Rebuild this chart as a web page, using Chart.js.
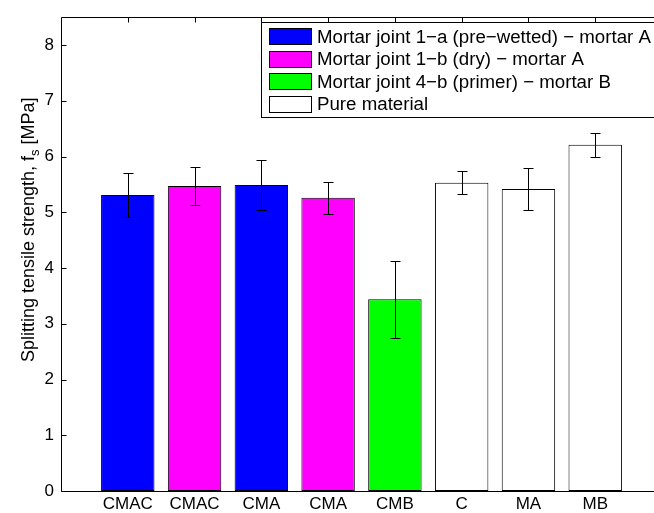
<!DOCTYPE html>
<html><head><meta charset="utf-8">
<script src="https://cdn.jsdelivr.net/npm/chart.js@4"></script>
<style>
html,body{margin:0;padding:0;background:#fff;overflow:hidden}
#wrap{width:654px;height:513px;overflow:hidden;position:relative;background:#fff}
canvas{display:block}
</style></head>
<body><div id="wrap"><canvas id="c" width="680" height="513"></canvas></div>
<script>
// Splitting tensile strength per specimen type (mean and standard deviation, MPa)
const categories = ['CMAC', 'CMAC', 'CMA', 'CMA', 'CMB', 'C', 'MA', 'MB'];
const strength = [5.31, 5.47, 5.49, 5.26, 3.44, 5.53, 5.42, 6.21];
const stdDev = [0.40, 0.34, 0.445, 0.285, 0.69, 0.205, 0.38, 0.215];
const barGroup = [0, 1, 0, 1, 2, 3, 3, 3];
const groupNames = [
  'Mortar joint 1\u2212a (pre\u2212wetted) \u2212 mortar A',
  'Mortar joint 1\u2212b (dry) \u2212 mortar A',
  'Mortar joint 4\u2212b (primer) \u2212 mortar B',
  'Pure material'
];
const groupColors = ['#0000ff', '#ff00ff', '#00ff00', '#ffffff'];
const yTicks = [0, 1, 2, 3, 4, 5, 6, 7, 8];
const yTitle = ['Splitting tensile strength, f', 's', ' [MPa]'];

const FONT = "'Liberation Sans', Arial, Helvetica, sans-serif";

// Axes box with inward tick marks, drawn beneath the bars
const axesBox = {
  id: 'axesBox',
  beforeDatasetsDraw(chart) {
    const { ctx, chartArea: a, scales: { x, y } } = chart;
    ctx.save();
    ctx.strokeStyle = '#000';
    ctx.lineWidth = 1;
    ctx.beginPath();
    const L = Math.round(a.left) + 0.5, R = Math.round(a.right) + 0.5;
    const T = Math.round(a.top) + 0.5, B = Math.round(a.bottom) + 0.5;
    ctx.rect(L, T, R - L, B - T);
    yTicks.forEach(v => {
      const py = Math.round(y.getPixelForValue(v)) + 0.5;
      ctx.moveTo(L, py); ctx.lineTo(L + 5, py);
      ctx.moveTo(R, py); ctx.lineTo(R - 5, py);
    });
    categories.forEach((c, i) => {
      const px = Math.round(x.getPixelForValue(i + 1)) + 0.5;
      ctx.moveTo(px, T); ctx.lineTo(px, T + 5);
      ctx.moveTo(px, B); ctx.lineTo(px, B - 5);
    });
    ctx.stroke();
    ctx.restore();
  }
};

// Error bars (mean ± one standard deviation) with short caps
const errorBars = {
  id: 'errorBars',
  afterDatasetsDraw(chart) {
    const { ctx, scales: { x, y } } = chart;
    ctx.save();
    ctx.strokeStyle = '#000';
    ctx.lineWidth = 1;
    ctx.beginPath();
    strength.forEach((m, i) => {
      const px = Math.round(x.getPixelForValue(i + 1)) + 0.5;
      const hi = Math.round(y.getPixelForValue(m + stdDev[i])) + 0.5;
      const lo = Math.round(y.getPixelForValue(m - stdDev[i])) + 0.5;
      ctx.moveTo(px, hi); ctx.lineTo(px, lo);
      ctx.moveTo(px - 5, hi); ctx.lineTo(px + 5, hi);
      ctx.moveTo(px - 5, lo); ctx.lineTo(px + 5, lo);
    });
    ctx.stroke();
    ctx.restore();
  }
};

// Legend box in the upper right and the y-axis title with its subscript
const annotations = {
  id: 'annotations',
  afterDraw(chart) {
    const { ctx } = chart;
    ctx.save();
    // legend
    const lx = 261, ly = 22, lw = 420, lh = 95;
    ctx.fillStyle = '#fff';
    ctx.fillRect(lx, ly, lw, lh);
    ctx.strokeStyle = '#000';
    ctx.lineWidth = 1;
    ctx.strokeRect(lx + 0.5, ly + 0.5, lw, lh);
    ctx.font = '18.7px ' + FONT;
    ctx.textBaseline = 'middle';
    groupNames.forEach((name, i) => {
      const cy = 36.5 + i * 22.6;
      ctx.fillStyle = groupColors[i];
      ctx.fillRect(269, Math.round(cy - 8.5), 43, 17);
      ctx.strokeRect(269.5, Math.round(cy - 8.5) + 0.5, 42, 16);
      ctx.fillStyle = '#000';
      ctx.fillText(name, 317, cy + 1);
    });
    // y-axis title
    ctx.translate(34, 362);
    ctx.rotate(-Math.PI / 2);
    ctx.textBaseline = 'alphabetic';
    ctx.fillStyle = '#000';
    ctx.font = '18px ' + FONT;
    let w = 0;
    ctx.fillText(yTitle[0], w, 0);
    w += ctx.measureText(yTitle[0]).width;
    ctx.font = '13px ' + FONT;
    ctx.fillText(yTitle[1], w, 5);
    w += ctx.measureText(yTitle[1]).width;
    ctx.font = '18px ' + FONT;
    ctx.fillText(yTitle[2], w, 0);
    ctx.restore();
  }
};

new Chart(document.getElementById('c'), {
  type: 'bar',
  data: {
    datasets: [{
      data: strength.map((v, i) => ({ x: i + 1, y: v })),
      backgroundColor: barGroup.map(g => groupColors[g]),
      borderColor: '#000',
      borderWidth: 1,
      borderSkipped: false,
      categoryPercentage: 1,
      barPercentage: 0.8
    }]
  },
  options: {
    responsive: false,
    animation: false,
    devicePixelRatio: 1,
    layout: { padding: { top: 16, right: 18, left: 0, bottom: 0 } },
    plugins: { legend: { display: false }, tooltip: { enabled: false } },
    scales: {
      x: {
        type: 'linear',
        min: 0, max: 9,
        offset: false,
        grid: { display: false, drawTicks: false },
        border: { display: false },
        afterFit: s => { s.height = 22; },
        ticks: {
          stepSize: 1, autoSkip: false, maxRotation: 0, padding: 3,
          color: '#000', font: { family: FONT, size: 17 },
          callback: v => categories[v - 1] || ''
        }
      },
      y: {
        min: 0, max: 8.5,
        grid: { display: false, drawTicks: false },
        border: { display: false },
        afterFit: s => { s.width = 61; },
        ticks: {
          stepSize: 1, padding: 7,
          color: '#000', font: { family: FONT, size: 17 },
          callback: v => yTicks.includes(v) ? String(v) : ''
        }
      }
    }
  },
  plugins: [axesBox, errorBars, annotations]
});
</script>
</body></html>
